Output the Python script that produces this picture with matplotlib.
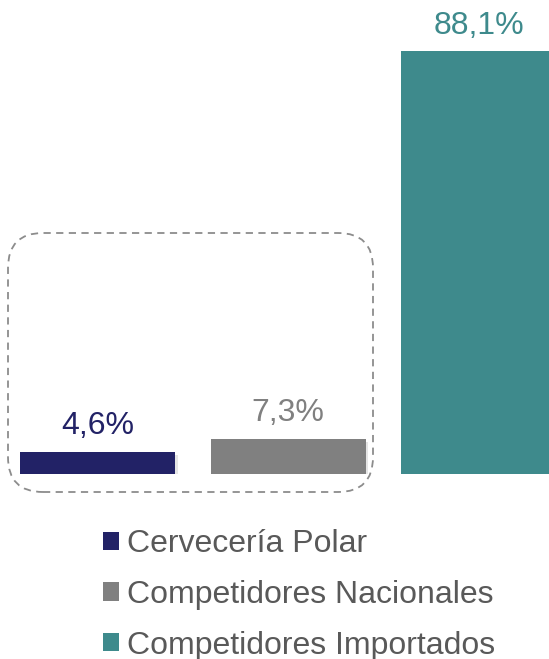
import matplotlib
matplotlib.use('Agg')
import matplotlib.pyplot as plt
import matplotlib.patheffects as pe
from matplotlib.patches import FancyBboxPatch

plt.rcParams['font.family'] = ['Liberation Sans', 'DejaVu Sans']

categories = ['Cervecería Polar', 'Competidores Nacionales', 'Competidores Importados']
values = [4.6, 7.3, 88.1]
labels = ['4,6%', '7,3%', '88,1%']
colors = ['#222266', '#808080', '#3E8A8C']

fig = plt.figure(figsize=(5.49, 6.59), dpi=100)
ax = fig.add_axes([0, 185 / 659, 1, 474 / 659])

shadow = [pe.SimplePatchShadow(offset=(2, -2), shadow_rgbFace='#000000', alpha=0.1), pe.Normal()]
bars = ax.bar(range(3), values, width=0.8136, color=colors, label=categories, zorder=2)
for b in bars:
    b.set_path_effects(shadow)

for i, (v, t) in enumerate(zip(values, labels)):
    ax.text(i, v + 2.2, t, ha='center', va='bottom', fontsize=23, color=colors[i])

ax.set_xlim(-0.5118, 2.370)
ax.set_ylim(0, 474 / 4.8)
ax.axis('off')

# dashed rounded box around the two small bars
box = FancyBboxPatch((0.08 + 0.35, 1.67 + 0.35), 3.65 - 0.70, 2.59 - 0.70,
                     boxstyle='round,pad=0.35', transform=fig.dpi_scale_trans,
                     fill=False, edgecolor='#8c8c8c', linestyle=(0, (4, 3)), linewidth=1.3)
fig.patches.append(box)

leg = fig.legend(handles=list(bars), labels=categories, loc='upper left',
                 bbox_to_anchor=(103 / 549, 1 - 529 / 659), frameon=False,
                 fontsize=23, handlelength=0.5, handleheight=0.5,
                 handletextpad=0.25, labelspacing=0.65, borderpad=0, borderaxespad=0)
for t in leg.get_texts():
    t.set_color('#595959')
for h in leg.legend_handles:
    h.set_path_effects([])

fig.savefig('out.png', dpi=100)
